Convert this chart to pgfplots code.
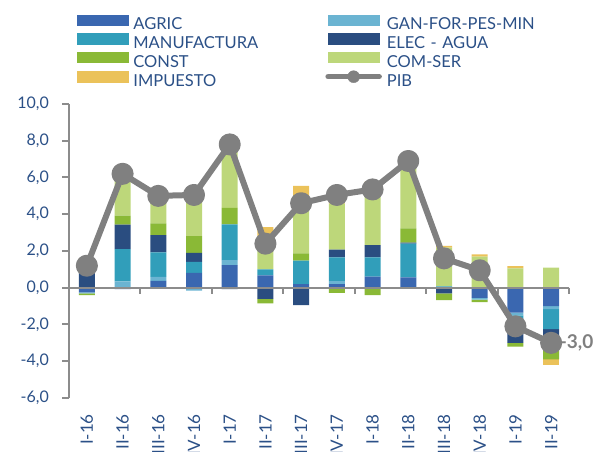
\documentclass[border=0pt]{standalone}
\usepackage{pgfplots}
\pgfplotsset{compat=1.18}
\usepackage{pgfplotstable}
\usepackage{fontspec}
\setmainfont{Lato}
\definecolor{agric}{HTML}{3A67B0}
\definecolor{gan}{HTML}{6BB4D2}
\definecolor{manuf}{HTML}{319EBA}
\definecolor{elec}{HTML}{2A4D80}
\definecolor{const}{HTML}{8AB936}
\definecolor{comser}{HTML}{BDD77A}
\definecolor{imp}{HTML}{EBC25A}
\definecolor{pib}{HTML}{808080}
\definecolor{txtblue}{HTML}{2B5087}
\definecolor{axgray}{HTML}{8C8C8C}

\pgfplotstableread{
x agric gan manuf elec const comser imp
0 0 0 0 0.80 0 0.65 0.15
1 0 0.35 1.75 1.33 0.49 2.10 0.20
2 0.37 0.22 1.33 0.94 0.64 1.27 0.20
3 0.81 0 0.60 0.49 0.91 2.10 0.25
4 1.23 0.27 1.95 0 0.90 3.15 0.35
5 0.68 0 0.32 0 0 1.80 0.50
6 0.20 0 1.27 0 0.40 2.81 0.86
7 0.20 0.16 1.29 0.43 0 2.50 0.40
8 0.60 0 1.05 0.67 0 3.20 0.25
9 0.56 0 1.84 0.05 0.78 3.30 0.30
10 0 0 0.08 0 0 2.10 0.10
11 0 0 0 0 0 1.70 0.12
12 0 0 0 0 0 1.05 0.12
13 0 0 0 0 0 1.10 0
}\postab

\pgfplotstableread{
x agric gan manuf elec const comser imp
0 -0.25 -0.05 0 0 -0.10 0 0
1 -0.08 0 0 0 0 0 0
2 0 0 0 0 0 0 0
3 0 -0.15 0 0 0 0 0
4 0 0 0 -0.08 0 0 0
5 0 -0.05 0 -0.55 -0.25 0 0
6 0 0 0 -0.95 0 0 0
7 0 0 0 0 -0.28 0 0
8 0 -0.05 0 0 -0.35 0 0
9 0 0 0 0 0 0 0
10 0 0 0 -0.30 -0.38 0 0
11 -0.55 -0.10 0 0 -0.13 0 0
12 -1.35 -0.15 -0.60 -0.90 -0.20 0 0
13 -1.00 -0.17 -1.08 -0.95 -0.70 0 -0.30
}\negtab

\pgfplotstableread{
x pib
0 1.2
1 6.2
2 5.0
3 5.05
4 7.8
5 2.4
6 4.6
7 5.05
8 5.35
9 6.9
10 1.6
11 0.95
12 -2.1
13 -3.0
}\pibtab

\pgfplotsset{base/.style={
  width=500pt, height=294pt, scale only axis, at={(0,0)}, anchor=south west,
  xmin=-0.5, xmax=13.5, ymin=-6, ymax=10}}

\newcommand{\swatch}[1]{\addlegendimage{legend image code/.code={\fill[#1] (0pt,0.5pt) rectangle (51pt,11pt);}}}

\begin{document}
\begin{tikzpicture}
\begin{axis}[base, ybar stacked, bar width=16pt,
  axis y line*=left, axis x line*=bottom,
  x axis line style={draw=none},
  y axis line style={axgray, line width=2pt},
  xtick={0,...,13},
  xticklabels={I-16,II-16,III-16,IV-16,I-17,II-17,III-17,IV-17,I-18,II-18,III-18,IV-18,I-19,II-19},
  ytick={-6,-4,...,10},
  tick align=outside, major tick length=7pt,
  xtick style={draw=none}, ytick style={axgray, line width=2pt},
  tick label style={font=\fontsize{16}{18}\selectfont, text=txtblue},
  xticklabel style={rotate=90, anchor=east, inner sep=0pt, font=\fontsize{17}{19}\selectfont},
  yticklabel style={inner sep=0pt},
  xticklabel shift=9pt, yticklabel shift=13pt,
  /pgf/number format/fixed, /pgf/number format/fixed zerofill,
  /pgf/number format/precision=1, /pgf/number format/use comma,
  /pgf/number format/assume math mode=true,
  legend columns=2, legend cell align=left,
  legend style={draw=none, fill=none, inner sep=0pt, outer sep=0pt,
    at={(0,1)}, anchor=north west, xshift=8pt, yshift=89.3pt,
    font=\fontsize{16.5}{18}\selectfont, text=txtblue,
    nodes={inner sep=0pt, text height=12pt, text depth=4pt, text width=192pt, align=left},
    /tikz/row sep=-0.6pt,
    /tikz/every odd column/.append style={column sep=5pt},
    /tikz/every even column/.append style={column sep=0pt}},
]
\addplot[fill=agric, draw=none, forget plot] table[x=x,y=agric] {\postab};
\addplot[fill=gan, draw=none, forget plot] table[x=x,y=gan] {\postab};
\addplot[fill=manuf, draw=none, forget plot] table[x=x,y=manuf] {\postab};
\addplot[fill=elec, draw=none, forget plot] table[x=x,y=elec] {\postab};
\addplot[fill=const, draw=none, forget plot] table[x=x,y=const] {\postab};
\addplot[fill=comser, draw=none, forget plot] table[x=x,y=comser] {\postab};
\addplot[fill=imp, draw=none, forget plot] table[x=x,y=imp] {\postab};
\swatch{agric}\addlegendentry{AGRIC}
\swatch{gan}\addlegendentry{GAN-FOR-PES-MIN}
\swatch{manuf}\addlegendentry{MANUFACTURA}
\swatch{elec}\addlegendentry{ELEC - AGUA}
\swatch{const}\addlegendentry{CONST}
\swatch{comser}\addlegendentry{COM-SER}
\swatch{imp}\addlegendentry{IMPUESTO}
\addlegendimage{legend image code/.code={\draw[pib, line width=5.5pt, line cap=round] (0pt,5.7pt) -- (51pt,5.7pt); \fill[pib] (25.5pt,5.7pt) circle (6pt);}}
\addlegendentry{PIB}
\end{axis}

\begin{axis}[base, hide axis, ybar stacked, bar width=16pt]
\addplot[fill=agric, draw=none] table[x=x,y=agric] {\negtab};
\addplot[fill=gan, draw=none] table[x=x,y=gan] {\negtab};
\addplot[fill=manuf, draw=none] table[x=x,y=manuf] {\negtab};
\addplot[fill=elec, draw=none] table[x=x,y=elec] {\negtab};
\addplot[fill=const, draw=none] table[x=x,y=const] {\negtab};
\addplot[fill=comser, draw=none] table[x=x,y=comser] {\negtab};
\addplot[fill=imp, draw=none] table[x=x,y=imp] {\negtab};
\end{axis}

\begin{axis}[base, hide axis, clip=false]
\draw[axgray, line width=2pt] (axis cs:-0.5,0) -- (axis cs:13.5,0);
\pgfplotsinvokeforeach{1.5,3.5,5.5,7.5,9.5,11.5,13.5}{
  \draw[axgray, line width=2pt] (axis cs:#1,0) -- ++(0pt,-6pt);
}
\addplot[pib, line width=6pt, line join=round, mark=*, mark size=8pt,
  mark options={draw=none, fill=pib}] table[x=x,y=pib] {\pibtab};
\node[anchor=west, inner sep=0pt, xshift=8.5pt, text=pib,
  font=\fontsize{19}{21}\selectfont\bfseries] at (axis cs:13,-3.0) {-3,0};
\end{axis}

\pgfresetboundingbox
\useasboundingbox (-69pt,-54pt) rectangle (534pt,398pt);
\end{tikzpicture}
\end{document}
